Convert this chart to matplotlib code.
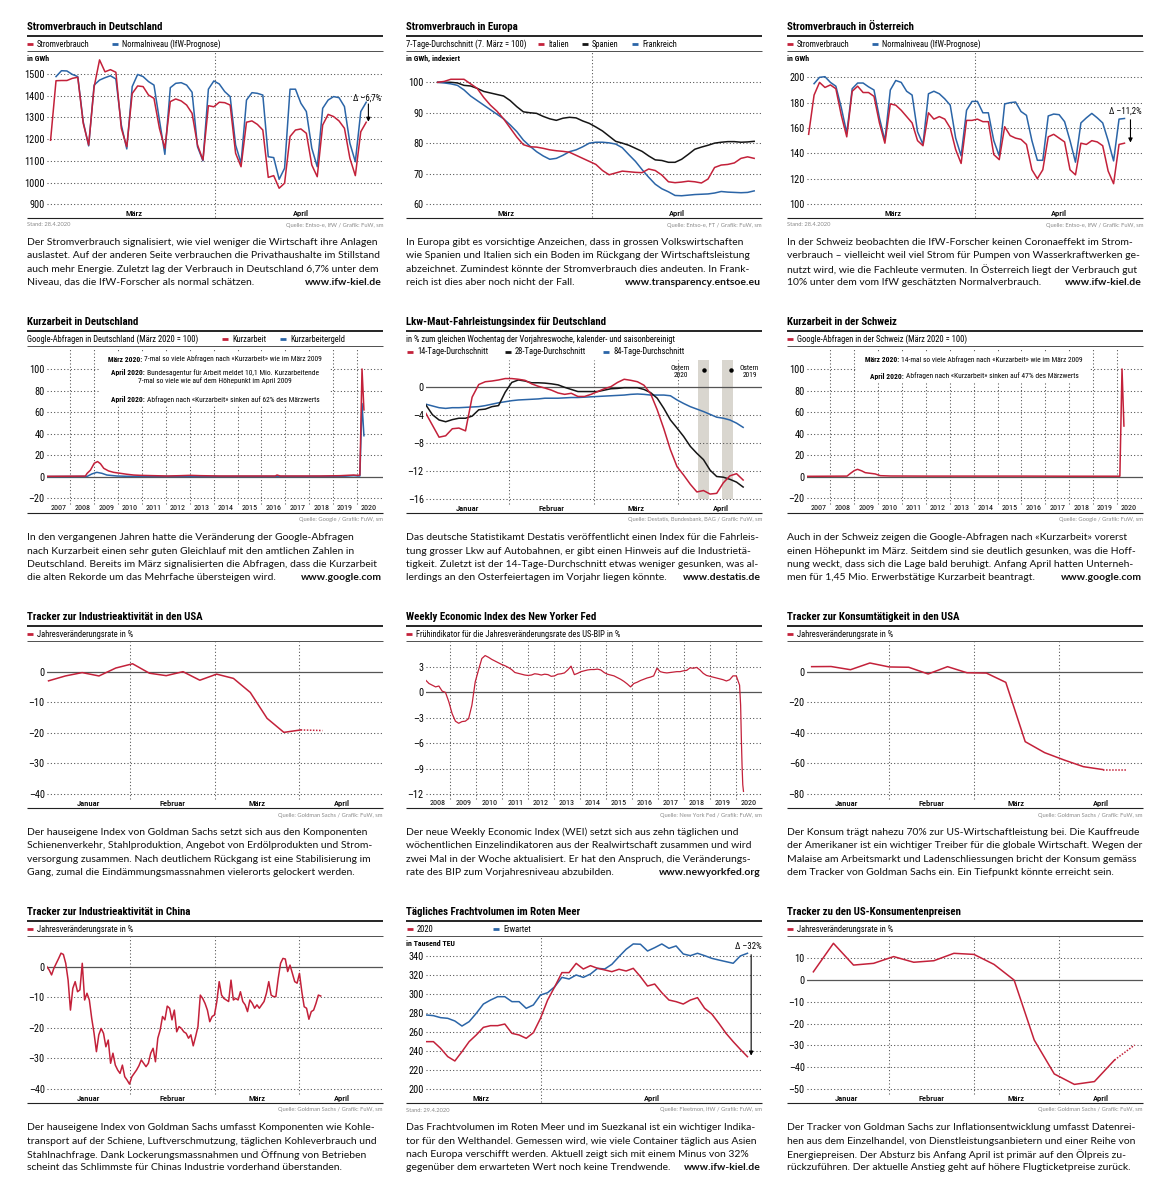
import os
import numpy as np
import matplotlib
matplotlib.use("Agg")
import matplotlib.pyplot as plt
from matplotlib import font_manager as fm
from matplotlib.font_manager import FontProperties
from matplotlib.lines import Line2D
from matplotlib.patches import Rectangle
from matplotlib.transforms import blended_transform_factory

# ======================= DATA =======================
# 1) Stromverbrauch Deutschland, GWh/Tag, Tag 0 = 1. März 2020
de_verbrauch = [1195, 1469, 1470, 1470, 1480, 1485, 1273, 1173, 1440, 1565, 1510, 1520, 1508, 1250,
                1165, 1410, 1445, 1442, 1403, 1388, 1250, 1158, 1373, 1385, 1376, 1357, 1319, 1173,
                1104, 1354, 1349, 1370, 1368, 1357, 1135, 1073, 1278, 1284, 1268, 1242, 1024, 1032,
                974, 997, 1212, 1242, 1247, 1227, 1081, 1027, 1265, 1314, 1304, 1284, 1250, 1112,
                1032, 1234, 1278]
de_normal = [1488, 1515, 1514, 1498, 1488, 1280, 1169, 1449, 1472, 1483, 1492, 1477, 1265, 1155,
             1442, 1498, 1488, 1465, 1449, 1288, 1130, 1437, 1457, 1460, 1449, 1416, 1165, 1100,
             1430, 1468, 1454, 1419, 1396, 1173, 1089, 1380, 1414, 1411, 1403, 1119, 1115, 1015,
             1066, 1430, 1430, 1365, 1327, 1158, 1073, 1342, 1380, 1396, 1391, 1350, 1181, 1096,
             1327, 1370]
de_normal_first_day = 1

# 2) Stromverbrauch Europa, 7-Tage-Durchschnitt, Index
eu_days = (1.45, 59.0)
eu_italien = [100, 100.3, 101, 101, 101, 99.5, 98, 95, 92.5, 90.5, 88, 85, 82, 79.5, 78.8, 78.7,
              78.3, 77.8, 77.5, 77.3, 77, 76, 75, 74, 73, 71, 69.6, 70.2, 70.8, 70.6, 70.4, 70.3,
              71.5, 71, 69.5, 67.3, 67, 67.2, 67.5, 67.3, 66.9, 68.2, 72, 72.8, 73, 73.5, 75, 75.5, 75]
eu_spanien = [100, 100, 100, 99.8, 99, 98.8, 98, 97, 96.5, 96, 95.5, 94, 92, 90.3, 90, 89.8, 88.8,
              88, 87.5, 88.2, 88.5, 88.3, 87.3, 86.5, 85.3, 84, 82.3, 80.6, 80, 79.3, 78.3, 77.3,
              75.8, 74.5, 74.3, 73.7, 73.7, 74.7, 76.3, 78, 78.7, 79.3, 80, 80.3, 80.5, 80.5, 80.3,
              80.4, 80.6]
eu_frankreich = [100, 99.8, 99.5, 99, 97.5, 95.5, 94, 92.5, 91, 89.5, 88, 86, 83.8, 81, 79, 77.2,
                 75.8, 74.7, 75, 76, 77.2, 77.8, 78.8, 80, 80.3, 80.3, 80.1, 79.7, 78.5, 76.2, 74,
                 71.3, 68.8, 66.5, 65, 64, 62.8, 62.7, 62.9, 63.1, 63.2, 63.3, 63.6, 64.1, 63.9,
                 63.8, 63.7, 63.8, 64.3]

# 3) Stromverbrauch Österreich, GWh/Tag
at_verbrauch = [155, 186, 196, 192, 194, 191, 170, 153, 189, 193, 188, 188, 185, 164, 148, 179, 178,
                174, 169, 164, 150, 146, 172, 167, 169, 167, 160, 143, 132, 166, 166, 167, 165, 165,
                139, 135, 161, 154, 152, 151, 147, 127, 120, 127, 153, 155, 152, 149, 127, 123, 148,
                147, 150, 149, 146, 126, 116, 147, 148]
at_normal = [195, 200, 200.5, 196, 193, 176, 156, 191, 195.5, 195.5, 192.5, 190, 168, 150, 190,
             197.5, 196, 189, 186, 157, 147, 187, 189, 187, 183, 178, 152, 138, 174, 181, 181, 172,
             172, 150, 138, 179, 180, 180.5, 173, 170, 150, 134.5, 134.5, 169.5, 171, 170.5, 165,
             150, 133, 164, 168, 171.5, 168, 164, 150, 134, 167, 167.5]

# 4) Kurzarbeit Deutschland, Google-Abfragen (März 2020 = 100)
kde_rot_t = [2007.0, 2008.63, 2008.70, 2008.84, 2009.0, 2009.14, 2009.26, 2009.40, 2009.60, 2009.81,
             2010.09, 2010.37, 2010.65, 2010.93, 2011.49, 2012.05, 2012.60, 2013.02, 2013.44,
             2014.28, 2015.67, 2016.58, 2016.65, 2016.79, 2018.46, 2019.30, 2019.86, 2020.04,
             2020.12, 2020.21, 2020.29]
kde_rot = [0.3, 0.5, 3, 6, 12.4, 14, 12, 7.7, 5.3, 4, 3.1, 2.2, 1.5, 1.2, 0.9, 0.6, 0.9, 1.2, 0.9,
           0.6, 0.6, 0.6, 1.5, 0.6, 0.6, 0.9, 1.5, 1.2, 1.5, 100, 62]
kde_blau_t = [2007.0, 2008.70, 2008.90, 2009.11, 2009.32, 2009.53, 2009.95, 2010.37, 2012.0, 2015.0,
              2018.0, 2019.5, 2019.86, 2020.04, 2020.12, 2020.21, 2020.29]
kde_blau = [0.1, 0.2, 2.5, 4, 3.1, 1.5, 0.6, 0.3, 0.2, 0.2, 0.2, 0.4, 0.9, 0.6, 0.6, 68, 38]

# 5) Lkw-Maut-Fahrleistungsindex (Monate seit 1. Januar 2020)
lkw_months = (0.012, 3.767)
lkw_14 = [-3.8, -5.5, -7.2, -7.0, -6.0, -5.9, -6.3, -1.5, 0.3, 0.7, 0.8, 0.95, 1.15, 1.15, 1.05, 0.9,
          0.4, 0.05, -0.2, -0.5, -0.9, -1.1, -0.95, -1.4, -1.4, -1.1, -0.7, -0.3, 0.0, 0.6, 1.05,
          0.9, 0.7, 0.2, -1.0, -3.3, -6.0, -9.0, -11.4, -12.6, -13.9, -15.0, -14.8, -15.3, -15.2,
          -13.7, -12.7, -12.4, -13.3]
lkw_28 = [-2.6, -4.0, -4.75, -5.0, -4.7, -4.5, -4.5, -4.2, -3.3, -3.2, -2.85, -2.7, -0.8, 0.6, 0.95,
          0.8, 0.55, 0.55, 0.5, 0.4, 0.25, -0.1, -0.4, -0.7, -0.7, -0.7, -0.7, -0.5, -0.3, -0.25,
          -0.15, -0.15, -0.15, -0.4, -0.85, -1.65, -3.1, -4.75, -5.9, -7.1, -8.5, -9.5, -10.4,
          -11.9, -12.8, -12.9, -13.2, -13.6, -14.3]
lkw_84 = [-2.5, -2.75, -3.0, -3.1, -3.0, -3.0, -2.95, -2.9, -2.85, -2.7, -2.5, -2.3, -2.15, -2.0,
          -1.9, -1.85, -1.8, -1.75, -1.65, -1.65, -1.65, -1.6, -1.55, -1.55, -1.5, -1.45, -1.4,
          -1.35, -1.3, -1.25, -1.2, -1.1, -1.05, -1.1, -1.2, -1.2, -1.2, -1.3, -1.9, -2.4, -2.85,
          -3.2, -3.55, -3.95, -4.35, -4.5, -4.75, -5.2, -5.8]
ostern_2020 = (3.233, 3.364)
ostern_2019 = (3.522, 3.648)

# 6) Kurzarbeit Schweiz
kch_t = [2007.0, 2008.70, 2008.84, 2009.0, 2009.14, 2009.32, 2009.46, 2009.67, 2009.88, 2010.09,
         2010.51, 2012.0, 2014.0, 2016.0, 2018.0, 2019.5, 2020.04, 2020.12, 2020.21, 2020.29]
kch = [0.3, 0.5, 3, 5.6, 6.8, 5.3, 3.7, 3.1, 2.5, 0.9, 0.6, 0.5, 0.5, 0.5, 0.4, 0.4, 0.4, 0.4, 100, 47]

# 7) Industrieaktivität USA (Monate seit 1. Januar 2020)
usi_months = (0.032, 3.016)
us_industrie = [-2.9, -1.3, -0.2, -1.3, 1.3, 2.7, -0.4, -1.2, 0.1, -2.7, -0.7, -2.1, -6.7, -15.2,
                -19.8, -19.0]
usi_proj_months = [3.016, 3.273]
us_industrie_proj = [-19.0, -19.2]

# 8) Weekly Economic Index (Jahre)
wei_years = (2008.05, 2020.15)
wei = [1.45, 1.05, 0.85, 0.65, 0.75, 0.15, 0.0, -1.1, -2.5, -3.4, -3.65, -3.45, -3.4, -3.1, -1.5,
       1.25, 2.65, 4.0, 4.35, 4.15, 3.9, 3.7, 3.5, 3.3, 3.15, 2.95, 2.7, 2.35, 2.25, 2.15, 2.05,
       2.0, 2.05, 2.2, 2.15, 2.05, 2.15, 2.1, 1.9, 1.95, 2.15, 2.2, 2.3, 2.65, 3.1, 2.1, 2.25,
       2.45, 2.55, 2.65, 2.7, 2.7, 2.75, 2.65, 2.35, 2.15, 2.05, 1.95, 1.75, 1.55, 1.3, 1.0, 0.65,
       1.05, 1.2, 1.4, 1.55, 1.7, 1.8, 1.95, 2.85, 2.45, 2.35, 2.3, 2.35, 2.4, 2.45, 2.45, 2.55,
       2.6, 2.9, 2.85, 2.95, 2.65, 2.25, 2.0, 1.9, 1.8, 1.7, 1.6, 1.5, 1.35, 1.5, 1.95, 1.95, 0.85]
wei_crash_years = (2020.19, 2020.30)
wei_crash = [-1.5, -5.4, -8.6, -10.9, -11.7]

# 9) Konsumtätigkeit USA
usk_months = (0.094, 3.52)
us_konsum = [3.5, 3.6, 1.5, 5.9, 3.3, 3.1, -1.3, 3.5, -0.5, -0.7, -6.8, -45.7, -52.9, -57.7, -62.1,
             -64.0]
usk_proj_months = [3.52, 3.795]
us_konsum_proj = [-64.0, -64.0]

# 10) Industrieaktivität China
cn_months = (0.012, 3.253)
china = [0, -1.1, -2.7, -0.5, 1.1, 2.7, 4.4, 4.0, 1.1, -4.4, -14.2, -7.1, -4.9, -8.2, -7.6, 1.1,
         -10.9, -8.7, -10.9, -16.9, -21.8, -27.8, -22.3, -20.2, -21.8, -26.2, -24, -31.6, -28.3,
         -32.2, -33.8, -34.9, -32.2, -36, -37.1, -38.4, -36, -34.9, -33.8, -32.4, -30.5, -31.6,
         -32.7, -31.6, -28.3, -26.7, -31.1, -23.4, -20.7, -16.3, -17.4, -12.9, -13.6, -17.4, -14.2,
         -21.3, -19.6, -20.2, -21.3, -21.8, -23.4, -22.3, -25.9, -22.9, -19.6, -9.3, -10.4, -12,
         -14.2, -18, -16.3, -15.8, -11.4, -4.9, -9.3, -10.4, -10.9, -11.4, -4.4, -10.9, -10.4,
         -10.9, -8.2, -11.4, -12.5, -14.7, -10.9, -12, -13.6, -12.5, -13.6, -12.5, -11.4, -8.7,
         -4.9, -9.3, -9.8, -9.8, -3.8, 1.1, 2.7, 2.5, -1.6, 0.5, -2.2, -4.9, -5.4, -2.2, -8.2,
         -13.1, -13.6, -17.2, -14.7, -14.2, -12, -9.3, -9.6]

# 11) Frachtvolumen Rotes Meer, Tausend TEU (Tag 0 = 1. März 2020)
rm_days = (15.5, 58.9)
rm_2020 = [249.7, 249.7, 242.7, 234, 229.4, 239.2, 249.7, 256.7, 264.7, 266.5, 266.5, 268.2, 258.4,
           256.7, 253.2, 259.1, 274.2, 293.4, 307.4, 322.2, 322.2, 331.9, 326, 329.5, 326.7, 325,
           323.2, 325.7, 323.9, 326.7, 318, 308.1, 310.2, 301.1, 293.4, 291.7, 289.2, 293.4, 295.9,
           284.7, 278.7, 268.9, 258.4, 249.7, 241.6, 233.9]
rm_erwartet = [277.7, 277, 274.9, 274.2, 271.4, 266.1, 270.7, 279.4, 289.2, 293.4, 296.9, 296.9,
               291.7, 291.7, 284.7, 288.2, 298.7, 301.1, 307.4, 317.2, 315.5, 319.7, 317.2, 320.7,
               326.7, 326, 330.9, 339, 346.7, 352.3, 352, 344.9, 348.4, 352.3, 347.7, 350.2, 341.8,
               340, 342.5, 340, 337.2, 335.4, 333.7, 332, 339.7, 342.5]

# 12) US-Konsumentenpreise
cpi_months = (0.114, 3.657)
us_cpi = [3.8, 16.9, 6.9, 7.7, 10.8, 8.2, 8.9, 12.3, 11.8, 7.2, 0.0, -27.5, -43.1, -47.9, -46.6, -36.7]
cpi_proj_months = [3.657, 3.894]
us_cpi_proj = [-36.7, -29.8]

MONTHS4 = ["Januar", "Februar", "März", "April"]
YEARS_KA = list(range(2007, 2021))
YEARS_WEI = list(range(2008, 2021))

# ======================= STYLE =======================
W, H = 1172, 1200
RED, BLUE, BLACK = "#c3213a", "#2b65a7", "#151515"
GRIDC = "#4d4d4d"
COLX = [27, 406, 787]
PW = 356


def _find(patterns):
    files = sorted({f.fname for f in fm.fontManager.ttflist})
    for p in patterns:
        for fn in files:
            if os.path.basename(fn).lower().startswith(p):
                return fn
    return None


FILES = {
    "cbold": _find(["robotocondensed-bold.", "notosans-condensedbold.", "liberationsansnarrow-bold.",
                    "opensans_condensed-bold.", "opensans-condbold.", "dejavusanscondensed-bold."]),
    "csemi": _find(["robotocondensed-medium.", "notosans-condensedsemibold.", "notosans-condensedmedium.",
                    "opensans_condensed-semibold."]),
    "creg": _find(["robotocondensed-regular.", "notosans-condensed.", "liberationsansnarrow-regular.",
                   "opensans_condensed-regular.", "dejavusanscondensed."]),
    "body": _find(["lato-regular.", "opensans-regular.", "notosans-regular."]),
    "bodyb": _find(["lato-bold.", "opensans-bold.", "notosans-bold."]),
}
if FILES["csemi"] is None:
    FILES["csemi"] = FILES["cbold"]


def FP(kind, size):
    f = FILES.get(kind)
    if f:
        return FontProperties(fname=f, size=size)
    w = "bold" if kind in ("cbold", "csemi", "bodyb") else "normal"
    return FontProperties(family="DejaVu Sans", weight=w, size=size)


fig = plt.figure(figsize=(W / 100, H / 100), dpi=100)
fig.patch.set_facecolor("white")
R = fig.canvas.get_renderer()


def fx(x):
    return x / W


def fy(y):
    return 1 - y / H


def text_width(s, fprop):
    t = fig.text(0, 0, s, fontproperties=fprop)
    w = t.get_window_extent(R).width
    t.remove()
    return w


def fit(kind, s, target):
    return 10.0 * target / text_width(s, FP(kind, 10.0))


S_TITLE = min(fit("cbold", "Stromverbrauch in Deutschland", 137), 9.5)
S_LEG = min(fit("creg", "7-Tage-Durchschnitt (7. März = 100)", 121), 8.0)
S_TICK = min(1.12 * fit("creg", "1500", 18), 8.0)
S_MON = min(1.05 * fit("csemi", "Februar", 24.5), 8.0)
S_YEAR = min(1.08 * fit("creg", "2013", 14.7), 8.0)
S_UNIT = min(fit("cbold", "in GWh", 22), 6.5)
S_ANN = min(1.06 * fit("creg", "7-mal so viele wie auf dem Höhepunkt im April 2009", 144), 7.5)
S_DELTA = min(1.05 * fit("creg", "Δ –6,7%", 27), 8.0)
S_OST = min(fit("creg", "Ostern", 19), 7.5)
S_SRC = min(fit("body", "Quelle: Destatis, Bundesbank, BAG / Grafik: FuW, sm", 136), 5.5)
S_PARA = fit("body", "Der Stromverbrauch signalisiert, wie viel weniger die Wirtschaft ihre Anlagen", 352)


def T(x, y, s, kind, size, ha="left", va="center", color="black", **kw):
    return fig.text(fx(x), fy(y), s, fontproperties=FP(kind, size), ha=ha, va=va, color=color, **kw)


def HL(x1, x2, y, lw, color):
    fig.add_artist(Line2D([fx(x1), fx(x2)], [fy(y), fy(y)], transform=fig.transFigure,
                          lw=lw, color=color, solid_capstyle="butt"))


def ycal(v1, z1, v2, z2, ztop=108.0, zbot=610.0):
    k = (z2 - z1) / (v1 - v2)
    return (v1 - (zbot - z1) / k, v1 + (z1 - ztop) / k)


def xcal(v1, z1, v2, z2, zl=80.0, zr=1088.0):
    k = (z2 - z1) / (v2 - v1)
    return (v1 - (z1 - zl) / k, v1 + (zr - z1) / k)


def lab(v):
    return "–" + str(-v) if v < 0 else str(v)


def panel(col, row, title, legend_rows, xlim, ylim, yticks, rule=True, ax_top=36.0,
          solid=(), unit=None, src_left=None, src_right="", para=(), url=None):
    x0 = COLX[col]
    b = 15 + 295 * row
    T(x0, b + 12, title, "cbold", S_TITLE)
    HL(x0, x0 + PW, b + 20.7, 1.2, "black")
    for ry, items in legend_rows:
        for color, label, off in items:
            if color is None:
                T(x0 + off, b + ry, label, "creg", S_LEG)
            else:
                HL(x0 + off, x0 + off + 6, b + ry, 2.0, color)
                T(x0 + off + 10, b + ry, label, "creg", S_LEG)
    if rule:
        HL(x0, x0 + PW, b + 36, 0.6, "#333333")
    HL(x0, x0 + PW, b + 203.3, 0.8, "#222222")
    if unit:
        T(x0, b + 43.3, unit, "cbold", S_UNIT)
    if src_left:
        T(x0, b + 210, src_left, "body", S_SRC, color="#8a8a8a")
    T(x0 + PW, b + 210, src_right, "body", S_SRC, ha="right", color="#8a8a8a")
    for i, line in enumerate(para):
        T(x0, b + 227.7 + 13.3 * i, line, "body", S_PARA, color="#111111")
    if url:
        T(x0 + PW - 1, b + 227.7 + 13.3 * 3, url, "bodyb", S_PARA, ha="right", color="#111111")
    ax = fig.add_axes([fx(x0 + 20), fy(b + 203.3), (PW - 20) / W, (203.3 - ax_top) / H])
    ax.set_xlim(*xlim)
    ax.set_ylim(*ylim)
    for s in ax.spines.values():
        s.set_visible(False)
    ax.patch.set_alpha(0)
    ax.set_xticks([])
    ax.set_yticks(yticks)
    ax.set_yticklabels([lab(v) for v in yticks], fontproperties=FP("creg", S_TICK))
    ax.tick_params(axis="y", length=0, pad=1.6)
    for v in yticks:
        if v in solid:
            ax.axhline(v, color="#555555", lw=0.9, zorder=1)
        else:
            ax.axhline(v, color=GRIDC, lw=0.75, ls=(0, (1, 2.2)), zorder=1)
    ax._x0, ax._b, ax._top = x0, b, ax_top
    return ax


def vgrid(ax, xs, zbot=605.0, ztop=None):
    span = 610.0 - (108.0 if ax._top == 36.0 else 145.0)
    top = 108.0 if ztop is None else ztop
    ymin = (610.0 - zbot) / span
    ymax = min(1.0, (610.0 - top) / span)
    for x in xs:
        ax.axvline(x, ymin=ymin, ymax=ymax, color=GRIDC, lw=0.75, ls=(0, (1, 2.2)), zorder=1)


def xlabels(ax, pos, labels, kind, size):
    span = 610.0 - (108.0 if ax._top == 36.0 else 145.0)
    frac = (610.0 - 595.0) / span
    tr = blended_transform_factory(ax.transData, ax.transAxes)
    for p, l in zip(pos, labels):
        ax.text(p, frac, l, transform=tr, ha="center", va="center",
                fontproperties=FP(kind, size), clip_on=False)


def mixed(cx, y, bold, reg):
    fb, fr = FP("cbold", S_ANN), FP("creg", S_ANN)
    gap = 2.2 if bold else 0.0
    wb = text_width(bold, fb) if bold else 0.0
    wr = text_width(reg, fr)
    left = cx - (wb + gap + wr) / 2
    if bold:
        T(left, y, bold, "cbold", S_ANN)
    T(left + wb + gap, y, reg, "creg", S_ANN)


def whitebox(x1, y1, x2, y2):
    fig.add_artist(Rectangle((fx(x1), fy(y2)), (x2 - x1) / W, (y2 - y1) / H,
                             transform=fig.transFigure, facecolor="white", edgecolor="none", zorder=1))


def arrow(ax, x, y_from, y_to):
    ax.annotate("", xy=(x, y_to), xytext=(x, y_from),
                arrowprops=dict(arrowstyle="-|>", color="black", lw=0.8, mutation_scale=6,
                                shrinkA=0, shrinkB=0), annotation_clip=False)


LW = 1.1

# ---------------- Panel 1 ----------------
ax = panel(0, 0, "Stromverbrauch in Deutschland",
           [(29.3, [(RED, "Stromverbrauch", 0), (BLUE, "Normalniveau (IfW-Prognose)", 85)])],
           xcal(7, 205, 56, 1005), ycal(1500, 177, 900, 568), [900, 1000, 1100, 1200, 1300, 1400, 1500],
           unit="in GWh", src_left="Stand: 28.4.2020", src_right="Quelle: Entso-e, IfW / Grafik: FuW, sm",
           para=["Der Stromverbrauch signalisiert, wie viel weniger die Wirtschaft ihre Anlagen",
                 "auslastet. Auf der anderen Seite verbrauchen die Privathaushalte im Stillstand",
                 "auch mehr Energie. Zuletzt lag der Verbrauch in Deutschland 6,7% unter dem",
                 "Niveau, das die IfW-Forscher als normal schätzen."], url="www.ifw-kiel.de")
vgrid(ax, [30.3])
ax.plot(np.arange(len(de_normal)) + de_normal_first_day, de_normal, color=BLUE, lw=LW, zorder=3)
ax.plot(np.arange(len(de_verbrauch)), de_verbrauch, color=RED, lw=LW, zorder=4)
xlabels(ax, [15.25, 45.9], ["März", "April"], "csemi", S_MON)
arrow(ax, 58.4, 1362, 1280)
T(ax._x0 + 354.5, ax._b + 82.7, "Δ –6,7%", "creg", S_DELTA, ha="right")

# ---------------- Panel 2 ----------------
ax = panel(1, 0, "Stromverbrauch in Europa",
           [(29.3, [(None, "7-Tage-Durchschnitt (7. März = 100)", 0), (RED, "Italien", 132),
                    (BLACK, "Spanien", 176), (BLUE, "Frankreich", 226)])],
           ((80 - 91) / 16.5, (1088 - 91) / 16.5), ycal(100, 202, 60, 567), [60, 70, 80, 90, 100],
           unit="in GWh, indexiert", src_right="Quelle: Entso-e, FT / Grafik: FuW, sm",
           para=["In Europa gibt es vorsichtige Anzeichen, dass in grossen Volkswirtschaften",
                 "wie Spanien und Italien sich ein Boden im Rückgang der Wirtschaftsleistung",
                 "abzeichnet. Zumindest könnte der Stromverbrauch dies andeuten. In Frank-",
                 "reich ist dies aber noch nicht der Fall."], url="www.transparency.entsoe.eu")
vgrid(ax, [29.6])
xe = np.linspace(eu_days[0], eu_days[1], len(eu_italien))
ax.plot(xe, eu_spanien, color=BLACK, lw=LW, zorder=3)
ax.plot(xe, eu_frankreich, color=BLUE, lw=LW, zorder=3)
ax.plot(xe, eu_italien, color=RED, lw=LW, zorder=4)
xlabels(ax, [13.8, 44.9], ["März", "April"], "csemi", S_MON)

# ---------------- Panel 3 ----------------
ax = panel(2, 0, "Stromverbrauch in Österreich",
           [(29.3, [(RED, "Stromverbrauch", 0), (BLUE, "Normalniveau (IfW-Prognose)", 85)])],
           (-0.3, 61.4), ycal(200, 187, 100, 567), [100, 120, 140, 160, 180, 200],
           unit="in GWh", src_left="Stand: 28.4.2020", src_right="Quelle: Entso-e, IfW / Grafik: FuW, sm",
           para=["In der Schweiz beobachten die IfW-Forscher keinen Coronaeffekt im Strom-",
                 "verbrauch – vielleicht weil viel Strom für Pumpen von Wasserkraftwerken ge-",
                 "nutzt wird, wie die Fachleute vermuten. In Österreich liegt der Verbrauch gut",
                 "10% unter dem vom IfW geschätzten Normalverbrauch."], url="www.ifw-kiel.de")
vgrid(ax, [30.5])
ax.plot(np.arange(len(at_normal)) + 1, at_normal, color=BLUE, lw=LW, zorder=3)
ax.plot(np.arange(len(at_verbrauch)), at_verbrauch, color=RED, lw=LW, zorder=4)
xlabels(ax, [15.5, 46.0], ["März", "April"], "csemi", S_MON)
arrow(ax, 59.1, 166.5, 148.5)
T(ax._x0 + 354.5, ax._b + 95.7, "Δ –11,2%", "creg", S_DELTA, ha="right")

# ---------------- Panel 4 ----------------
KA_X = xcal(2008, 150, 2020, 1010)
ax = panel(0, 1, "Kurzarbeit in Deutschland",
           [(29.3, [(None, "Google-Abfragen in Deutschland (März 2020 = 100)", 0), (RED, "Kurzarbeit", 195),
                    (BLUE, "Kurzarbeitergeld", 253)])],
           KA_X, ycal(100, 177, 0, 500), [-20, 0, 20, 40, 60, 80, 100], solid=(0,),
           src_right="Quelle: Google / Grafik: FuW, sm",
           para=["In den vergangenen Jahren hatte die Veränderung der Google-Abfragen",
                 "nach Kurzarbeit einen sehr guten Gleichlauf mit den amtlichen Zahlen in",
                 "Deutschland. Bereits im März signalisierten die Abfragen, dass die Kurzarbeit",
                 "die alten Rekorde um das Mehrfache übersteigen wird."], url="www.google.com")
vgrid(ax, YEARS_KA[1:], zbot=583, ztop=115)
ax.plot(kde_blau_t, kde_blau, color=BLUE, lw=LW, zorder=3)
ax.plot(kde_rot_t, kde_rot, color=RED, lw=LW, zorder=4)
xlabels(ax, [y + 0.5 for y in YEARS_KA], [str(y) for y in YEARS_KA], "creg", S_YEAR)
x0, b = ax._x0, ax._b
whitebox(x0 + 72, b + 42, x0 + 303, b + 95)
mixed(x0 + 188, b + 49.0, "März 2020:", "7-mal so viele Abfragen nach «Kurzarbeit» wie im März 2009")
mixed(x0 + 188, b + 62.3, "April 2020:", "Bundesagentur für Arbeit meldet 10,1 Mio. Kurzarbeitende")
mixed(x0 + 188, b + 70.7, "", "7-mal so viele wie auf dem Höhepunkt im April 2009")
mixed(x0 + 188, b + 89.3, "April 2020:", "Abfragen nach «Kurzarbeit» sinken auf 62% des Märzwerts")

# ---------------- Panel 5 ----------------
MON_X = xcal(1, 330, 3, 837)
ax = panel(1, 1, "Lkw-Maut-Fahrleistungsindex für Deutschland",
           [(29.3, [(None, "in % zum gleichen Wochentag der Vorjahreswoche, kalender- und saisonbereinigt", 0)]),
            (41.7, [(RED, "14-Tage-Durchschnitt", 1), (BLACK, "28-Tage-Durchschnitt", 99),
                    (BLUE, "84-Tage-Durchschnitt", 197)])],
           MON_X, ycal(0, 230, -16, 567, ztop=145), [-16, -12, -8, -4, 0], rule=False, ax_top=48.3,
           solid=(0,), src_right="Quelle: Destatis, Bundesbank, BAG / Grafik: FuW, sm",
           para=["Das deutsche Statistikamt Destatis veröffentlicht einen Index für die Fahrleis-",
                 "tung grosser Lkw auf Autobahnen, er gibt einen Hinweis auf die Industrietä-",
                 "tigkeit. Zuletzt ist der 14-Tage-Durchschnitt etwas weniger gesunken, was al-",
                 "lerdings an den Osterfeiertagen im Vorjahr liegen könnte."], url="www.destatis.de")
for a0, a1 in (ostern_2020, ostern_2019):
    ax.add_patch(Rectangle((a0, -16), a1 - a0, 19.8, facecolor="#d9d6cf", edgecolor="none", zorder=0.5))
vgrid(ax, [1, 2, 3], zbot=583, ztop=150)
xl = np.linspace(lkw_months[0], lkw_months[1], len(lkw_14))
ax.plot(xl, lkw_84, color=BLUE, lw=LW, zorder=3)
ax.plot(xl, lkw_28, color=BLACK, lw=LW, zorder=3)
ax.plot(xl, lkw_14, color=RED, lw=LW, zorder=4)
xlabels(ax, [0.5, 1.5, 2.5, 3.5], MONTHS4, "csemi", S_MON)
ax.plot([sum(ostern_2020) / 2, sum(ostern_2019) / 2 + 0.04], [2.37, 2.37], "o", ms=2.2, color="black",
        zorder=5)
ax.text(3.142, 2.1, "Ostern\n2020", ha="right", va="center", multialignment="center",
        fontproperties=FP("creg", S_OST), linespacing=1.05)
ax.text(3.727, 2.1, "Ostern\n2019", ha="left", va="center", multialignment="center",
        fontproperties=FP("creg", S_OST), linespacing=1.05)

# ---------------- Panel 6 ----------------
ax = panel(2, 1, "Kurzarbeit in der Schweiz",
           [(29.3, [(RED, "Google-Abfragen in der Schweiz (März 2020 = 100)", 0)])],
           KA_X, ycal(100, 177, 0, 500), [-20, 0, 20, 40, 60, 80, 100], solid=(0,),
           src_right="Quelle: Google / Grafik: FuW, sm",
           para=["Auch in der Schweiz zeigen die Google-Abfragen nach «Kurzarbeit» vorerst",
                 "einen Höhepunkt im März. Seitdem sind sie deutlich gesunken, was die Hoff-",
                 "nung weckt, dass sich die Lage bald beruhigt. Anfang April hatten Unterneh-",
                 "men für 1,45 Mio. Erwerbstätige Kurzarbeit beantragt."], url="www.google.com")
vgrid(ax, YEARS_KA[1:], zbot=583, ztop=115)
ax.plot(kch_t, kch, color=RED, lw=LW, zorder=4)
xlabels(ax, [y + 0.5 for y in YEARS_KA], [str(y) for y in YEARS_KA], "creg", S_YEAR)
x0, b = ax._x0, ax._b
whitebox(x0 + 70, b + 42, x0 + 303, b + 73)
mixed(x0 + 187, b + 50.0, "März 2020:", "14-mal so viele Abfragen nach «Kurzarbeit» wie im März 2009")
mixed(x0 + 187, b + 66.0, "April 2020:", "Abfragen nach «Kurzarbeit» sinken auf 47% des Märzwerts")

# ---------------- Panel 7 ----------------
ax = panel(0, 2, "Tracker zur Industrieaktivität in den USA",
           [(29.3, [(RED, "Jahresveränderungsrate in %", 0)])],
           MON_X, ycal(0, 201, -40, 567), [-40, -30, -20, -10, 0], solid=(0,),
           src_right="Quelle: Goldman Sachs / Grafik: FuW, sm",
           para=["Der hauseigene Index von Goldman Sachs setzt sich aus den Komponenten",
                 "Schienenverkehr, Stahlproduktion, Angebot von Erdölprodukten und Strom-",
                 "versorgung zusammen. Nach deutlichem Rückgang ist eine Stabilisierung im",
                 "Gang, zumal die Eindämmungsmassnahmen vielerorts gelockert werden."])
vgrid(ax, [1, 2, 3], zbot=583, ztop=112)
ax.plot(np.linspace(usi_months[0], usi_months[1], len(us_industrie)), us_industrie, color=RED, lw=LW, zorder=4)
ax.plot(usi_proj_months, us_industrie_proj, color=RED, lw=LW, ls=(0, (1, 1)), zorder=4)
xlabels(ax, [0.5, 1.5, 2.5, 3.5], MONTHS4, "csemi", S_MON)

# ---------------- Panel 8 ----------------
ax = panel(1, 2, "Weekly Economic Index des New Yorker Fed",
           [(29.3, [(RED, "Frühindikator für die Jahresveränderungsrate des US-BIP in %", 0)])],
           xcal(2008.5, 114, 2020.5, 1048), ycal(3, 186, -12, 567), [-12, -9, -6, -3, 0, 3], solid=(0,),
           src_right="Quelle: New York Fed / Grafik: FuW, sm",
           para=["Der neue Weekly Economic Index (WEI) setzt sich aus zehn täglichen und",
                 "wöchentlichen Einzelindikatoren aus der Realwirtschaft zusammen und wird",
                 "zwei Mal in der Woche aktualisiert. Er hat den Anspruch, die Veränderungs-",
                 "rate des BIP zum Vorjahresniveau abzubilden."], url="www.newyorkfed.org")
vgrid(ax, YEARS_WEI[1:], zbot=583, ztop=112)
xw = np.concatenate([np.linspace(wei_years[0], wei_years[1], len(wei)),
                     np.linspace(wei_crash_years[0], wei_crash_years[1], len(wei_crash))])
ax.plot(xw, wei + wei_crash, color=RED, lw=0.9, zorder=4)
xlabels(ax, [y + 0.5 for y in YEARS_WEI], [str(y) for y in YEARS_WEI], "creg", S_YEAR)

# ---------------- Panel 9 ----------------
ax = panel(2, 2, "Tracker zur Konsumtätigkeit in den USA",
           [(29.3, [(RED, "Jahresveränderungsrate in %", 0)])],
           xcal(1, 325, 3, 835), ycal(0, 201, -80, 567), [-80, -60, -40, -20, 0], solid=(0,),
           src_right="Quelle: Goldman Sachs / Grafik: FuW, sm",
           para=["Der Konsum trägt nahezu 70% zur US-Wirtschaftleistung bei. Die Kauffreude",
                 "der Amerikaner ist ein wichtiger Treiber für die globale Wirtschaft. Wegen der",
                 "Malaise am Arbeitsmarkt und Ladenschliessungen bricht der Konsum gemäss",
                 "dem Tracker von Goldman Sachs ein. Ein Tiefpunkt könnte erreicht sein."])
vgrid(ax, [1, 2, 3], zbot=583, ztop=112)
ax.plot(np.linspace(usk_months[0], usk_months[1], len(us_konsum)), us_konsum, color=RED, lw=LW, zorder=4)
ax.plot(usk_proj_months, us_konsum_proj, color=RED, lw=LW, ls=(0, (1, 1)), zorder=4)
xlabels(ax, [0.5, 1.5, 2.5, 3.5], MONTHS4, "csemi", S_MON)

# ---------------- Panel 10 ----------------
ax = panel(0, 3, "Tracker zur Industrieaktivität in China",
           [(29.3, [(RED, "Jahresveränderungsrate in %", 0)])],
           MON_X, ycal(0, 200, -40, 567), [-40, -30, -20, -10, 0], solid=(0,),
           src_right="Quelle: Goldman Sachs / Grafik: FuW, sm",
           para=["Der hauseigene Index von Goldman Sachs umfasst Komponenten wie Kohle-",
                 "transport auf der Schiene, Luftverschmutzung, täglichen Kohleverbrauch und",
                 "Stahlnachfrage. Dank Lockerungsmassnahmen und Öffnung von Betrieben",
                 "scheint das Schlimmste für Chinas Industrie vorderhand überstanden."])
vgrid(ax, [1, 2, 3], zbot=583, ztop=112)
ax.plot(np.linspace(cn_months[0], cn_months[1], len(china)), china, color=RED, lw=LW, zorder=4)
xlabels(ax, [0.5, 1.5, 2.5, 3.5], MONTHS4, "csemi", S_MON)

# ---------------- Panel 11 ----------------
ax = panel(1, 3, "Tägliches Frachtvolumen im Roten Meer",
           [(29.3, [(RED, "2020", 1), (BLUE, "Erwartet", 87)])],
           xcal(31, 425, 61, 1091), ycal(340, 167, 200, 567), [200, 220, 240, 260, 280, 300, 320, 340],
           unit="in Tausend TEU", src_left="Stand: 29.4.2020", src_right="Quelle: Fleetmon, IfW / Grafik: FuW, sm",
           para=["Das Frachtvolumen im Roten Meer und im Suezkanal ist ein wichtiger Indika-",
                 "tor für den Welthandel. Gemessen wird, wie viele Container täglich aus Asien",
                 "nach Europa verschifft werden. Aktuell zeigt sich mit einem Minus von 32%",
                 "gegenüber dem erwarteten Wert noch keine Trendwende."], url="www.ifw-kiel.de")
vgrid(ax, [31])
xr = np.linspace(rm_days[0], rm_days[1], len(rm_2020))
ax.plot(xr, rm_erwartet, color=BLUE, lw=LW, zorder=3)
ax.plot(xr, rm_2020, color=RED, lw=LW, zorder=4)
xlabels(ax, [22.9, 46.0], ["März", "April"], "csemi", S_MON)
arrow(ax, 59.4, 341, 235)
T(ax._x0 + 355.5, ax._b + 46.7, "Δ –32%", "creg", S_DELTA, ha="right")

# ---------------- Panel 12 ----------------
ax = panel(2, 3, "Tracker zu den US-Konsumentenpreisen",
           [(29.3, [(RED, "Jahresveränderungsrate in %", 0)])],
           xcal(1, 325, 3, 835), ycal(10, 175, -50, 567), [-50, -40, -30, -20, -10, 0, 10], solid=(0,),
           src_right="Quelle: Goldman Sachs / Grafik: FuW, sm",
           para=["Der Tracker von Goldman Sachs zur Inflationsentwicklung umfasst Datenrei-",
                 "hen aus dem Einzelhandel, von Dienstleistungsanbietern und einer Reihe von",
                 "Energiepreisen. Der Absturz bis Anfang April ist primär auf den Ölpreis zu-",
                 "rückzuführen. Der aktuelle Anstieg geht auf höhere Flugticketpreise zurück."])
vgrid(ax, [1, 2, 3], zbot=583, ztop=112)
ax.plot(np.linspace(cpi_months[0], cpi_months[1], len(us_cpi)), us_cpi, color=RED, lw=LW, zorder=4)
ax.plot(cpi_proj_months, us_cpi_proj, color=RED, lw=LW, ls=(0, (1, 1)), zorder=4)
xlabels(ax, [0.5, 1.5, 2.5, 3.5], MONTHS4, "csemi", S_MON)

fig.savefig("out.png", dpi=100, facecolor="white")
